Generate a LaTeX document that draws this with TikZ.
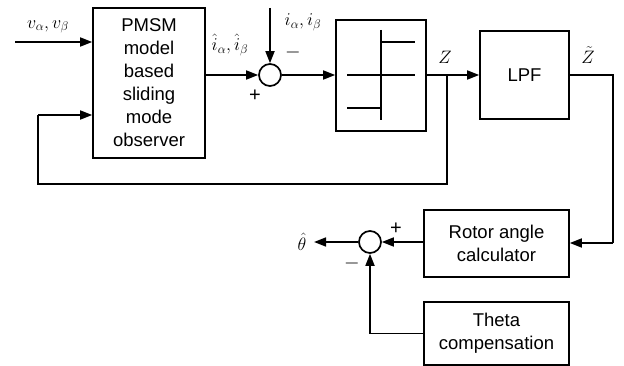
\documentclass[tikz,border=0pt]{standalone}
\usepackage{fontspec}
\usepackage{fix-cm}
\setmainfont{Liberation Sans}
\usetikzlibrary{arrows.meta,calc}
\begin{document}
\begin{tikzpicture}[x=1pt,y=-1pt,line width=1.7pt,
  blk/.style={draw,rectangle,inner sep=0pt,align=center,font=\fontsize{18.5}{23}\selectfont},
  sumc/.style={draw,circle,minimum size=22pt,inner sep=0pt},
  arr/.style={-{Triangle[length=12pt,width=9pt]}},
  lbl/.style={font=\fontsize{18}{20}\selectfont,inner sep=0pt},
  sgn/.style={font=\fontsize{20}{22}\selectfont,inner sep=0pt}]
\useasboundingbox (0,0) rectangle (624,366);
% blocks
\node[blk,minimum width=112pt,minimum height=150pt] (pmsm) at (149,83) {PMSM\\model\\based\\sliding\\mode\\observer};
\node[sumc] (s1) at (270,75) {};
\node[blk,minimum width=90pt,minimum height=111pt] (sw) at (381,75.5) {};
\node[blk,minimum width=89pt,minimum height=88pt] (lpf) at (524.5,75) {LPF};
\node[blk,minimum width=145pt,minimum height=67pt] (rot) at (496.5,243.5) {Rotor angle\\calculator};
\node[sumc] (s2) at (370,242) {};
\node[blk,minimum width=145pt,minimum height=63pt] (th) at (496.5,333.5) {Theta\\compensation};
% sign function inside
\draw (381,30) -- (381,120);
\draw (347,75) -- (415,75);
\draw (381,42) -- (415,42);
\draw (347,108) -- (381,108);
% coordinates
\coordinate (vin) at (15,42);
\coordinate (itop) at (270,8);
\coordinate (zj) at (447,75);
\coordinate (fb1) at (447,184);
\coordinate (fb2) at (38,184);
\coordinate (fb3) at (38,115);
\coordinate (lr) at (613,75);
\coordinate (lr2) at (613,243);
\coordinate (tout) at (314,242);
% connectors
\draw[arr] (vin) -- (vin -| pmsm.west);
\draw[arr] (pmsm.east |- s1) -- (s1.west);
\draw[arr] (itop) -- (s1.north);
\draw[arr] (s1.east) -- (sw.west |- s1);
\draw[arr] (sw.east |- zj) -- (lpf.west);
\draw (zj) -- (fb1) -- (fb2) -- (fb3);
\draw[arr] (fb3) -- (fb3 -| pmsm.west);
\draw (lpf.east) -- (lr) -- (lr2);
\draw[arr] (lr2) -- (rot.east |- lr2);
\draw[arr] (rot.west |- s2) -- (s2.east);
\draw[arr] (s2.west) -- (tout);
\draw[arr] (th.west) -| (s2.south);
% labels
\node[lbl] at (48,27) {$v_\alpha,v_\beta$};
\node[lbl] at (230,45) {$\hat{i}_\alpha,\hat{i}_\beta$};
\node[sgn] at (255,96) {+};
\node[lbl] at (303,22) {$i_\alpha,i_\beta$};
\node[sgn] at (293,53) {$-$};
\node[lbl] at (445,57) {$Z$};
\node[lbl] at (588,55) {$\tilde{Z}$};
\node[sgn] at (396,229) {+};
\node[sgn] at (352,264) {$-$};
\node[lbl] at (302,242) {$\hat{\theta}$};
\end{tikzpicture}
\end{document}
